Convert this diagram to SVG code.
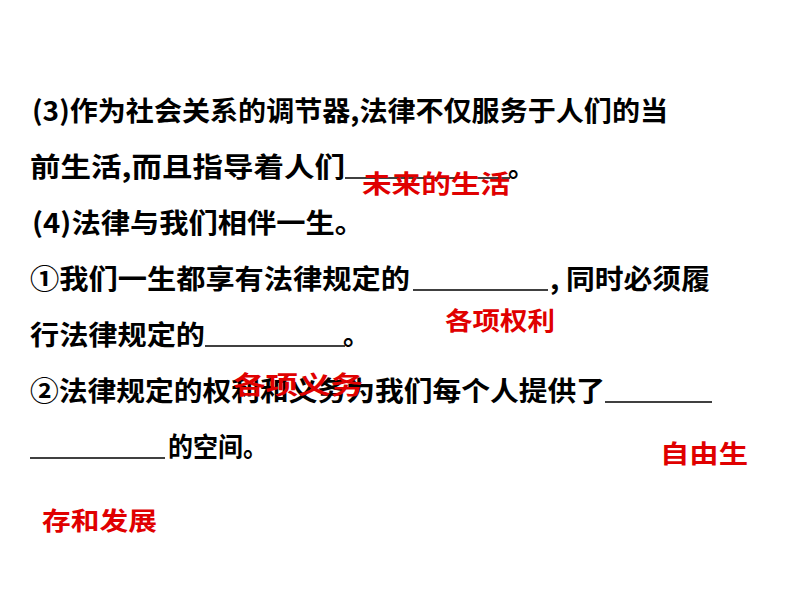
<svg xmlns="http://www.w3.org/2000/svg" width="794" height="596" viewBox="0 0 794 596">
<style>
.t{font-family:"Noto Sans CJK SC","Liberation Sans",sans-serif;font-size:27px;font-weight:bold;fill:#000}
.r{font-family:"Noto Sans CJK SC","Liberation Sans",sans-serif;font-size:25px;font-weight:bold;fill:#e00000}
.u{stroke:#000;stroke-width:1.3}
</style>
<rect width="794" height="596" fill="#fff"/>
<g id="text">
<text class="t" x="32" y="121" textLength="636" lengthAdjust="spacingAndGlyphs">(3)作为社会关系的调节器,法律不仅服务于人们的当</text>
<text class="t" x="30" y="177" textLength="315" lengthAdjust="spacingAndGlyphs">前生活,而且指导着人们</text>
<line class="u" x1="345" y1="178" x2="510" y2="178"/>
<text class="t" x="508" y="177">。</text>
<text class="t" x="32" y="233" textLength="332" lengthAdjust="spacingAndGlyphs">(4)法律与我们相伴一生。</text>
<text class="t" x="30" y="289" textLength="380" lengthAdjust="spacingAndGlyphs">①我们一生都享有法律规定的</text>
<line class="u" x1="413" y1="290" x2="548" y2="290"/>
<text class="t" x="550" y="289" textLength="160" lengthAdjust="spacingAndGlyphs">, 同时必须履</text>
<text class="t" x="30" y="345" textLength="175" lengthAdjust="spacingAndGlyphs">行法律规定的</text>
<line class="u" x1="205" y1="346" x2="345" y2="346"/>
<text class="t" x="343" y="345">。</text>
<text class="t" x="30" y="401" textLength="575" lengthAdjust="spacingAndGlyphs">②法律规定的权利和义务为我们每个人提供了</text>
<line class="u" x1="605" y1="402" x2="712" y2="402"/>
<line class="u" x1="30" y1="458" x2="165" y2="458"/>
<text class="t" x="168" y="457" textLength="100" lengthAdjust="spacingAndGlyphs">的空间。</text>
</g>
<g id="answers">
<text class="r" x="362" y="193" textLength="148" lengthAdjust="spacingAndGlyphs">未来的生活</text>
<text class="r" x="445" y="330" textLength="110" lengthAdjust="spacingAndGlyphs">各项权利</text>
<text class="r" x="233" y="394" font-size="29" textLength="130" lengthAdjust="spacingAndGlyphs">各项义务</text>
<text class="r" x="660" y="463" textLength="88" lengthAdjust="spacingAndGlyphs">自由生</text>
<text class="r" x="42" y="530" textLength="115" lengthAdjust="spacingAndGlyphs">存和发展</text>
</g>
</svg>
